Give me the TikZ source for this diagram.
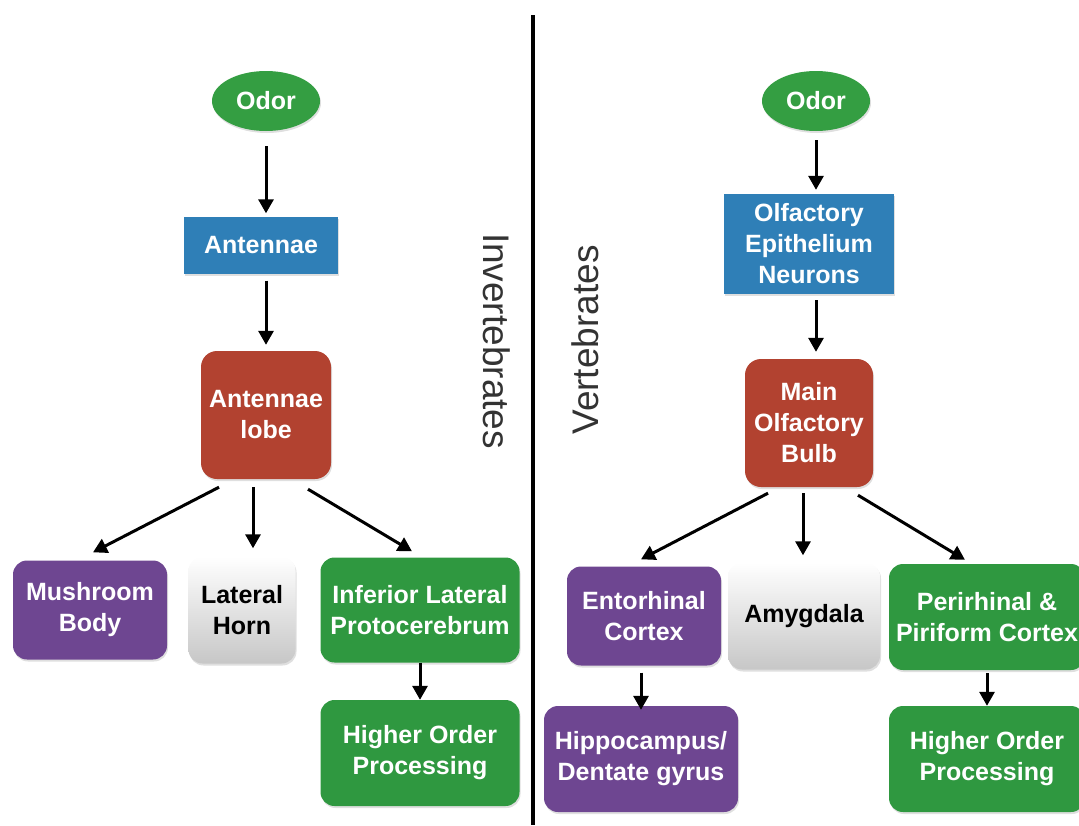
\documentclass[tikz,border=0pt]{standalone}
\usepackage{fontspec}
\setmainfont{Liberation Sans}
\usetikzlibrary{shapes.geometric,arrows.meta,shadows}

\definecolor{odorgreen}{RGB}{52,158,66}
\definecolor{boxblue}{RGB}{47,127,183}
\definecolor{boxred}{RGB}{178,66,48}
\definecolor{boxpurple}{RGB}{110,70,145}
\definecolor{boxgreen}{RGB}{47,152,64}

\begin{document}
\begin{tikzpicture}[x=1pt,y=-1pt]
	\tikzset{base/.style = {align=center, font=\fontsize{25}{31}\selectfont\bfseries, text=white, inner sep=0pt,
		drop shadow={opacity=0.25, shadow xshift=1pt, shadow yshift=-2pt}}}
	\tikzset{odor/.style = {base, shape=ellipse, fill=odorgreen, minimum width=108, minimum height=60}}
	\tikzset{sensor/.style = {base, rectangle, fill=boxblue}}
	\tikzset{relay/.style = {base, rectangle, rounded corners=16, fill=boxred}}
	\tikzset{purplebox/.style = {base, rectangle, rounded corners=14, fill=boxpurple}}
	\tikzset{greenbox/.style = {base, rectangle, rounded corners=14, fill=boxgreen}}
	\tikzset{greybox/.style = {base, rectangle, rounded corners=14, text=black, top color=white, bottom color=black!22}}
	\tikzset{edge/.style = {-{Triangle[length=14pt, width=15pt]}, line width=3pt}}
	\tikzset{sidelabel/.style = {font=\fontsize{37}{42}\selectfont, text=black!80, inner sep=0pt}}
	\useasboundingbox (0,0) rectangle (1079,825);

	% invertebrates
	\node[odor] (odorL) at (266, 101) {Odor};
	\node[sensor, minimum width=154, minimum height=57] (antennae) at (261, 245) {Antennae};
	\node[relay, minimum width=130, minimum height=128] (alobe) at (266, 415) {Antennae\\lobe};
	\node[purplebox, minimum width=154, minimum height=99] (mushroom) at (90, 610) {Mushroom\\Body};
	\node[greybox, minimum width=107, minimum height=107] (lhorn) at (242, 610) {Lateral\\Horn};
	\node[greenbox, minimum width=199, minimum height=105] (ilp) at (420, 610) {Inferior Lateral\\Protocerebrum};
	\node[greenbox, minimum width=199, minimum height=106] (hopL) at (420, 753) {Higher Order\\Processing};
	\node[sidelabel, rotate=-90] (inv) at (497, 341) {Invertebrates};

	\draw[edge, shorten <=15pt, shorten >=3pt] (odorL.south) -- (odorL.south |- antennae.north);
	\draw[edge, shorten <=7pt, shorten >=6pt] (alobe.north |- antennae.south) -- (alobe.north);
	\draw[edge] ([xshift=-47pt, yshift=-8pt]alobe.south) -- ([xshift=3pt, yshift=8pt]mushroom.north);
	\draw[edge] ([xshift=-13pt, yshift=-8pt]alobe.south) -- ([xshift=11pt, yshift=8pt]lhorn.north);
	\draw[edge] ([xshift=42pt, yshift=-10pt]alobe.south) -- ([xshift=-8pt, yshift=6pt]ilp.north);
	\draw[edge] (ilp.south) -- (hopL.north);

	% divider
	\coordinate (divtop) at (533, 15);
	\coordinate (divbot) at (533, 825);
	\draw[line width=4pt] (divtop) -- (divbot);

	% vertebrates
	\node[sidelabel, rotate=90] (vert) at (585, 340) {Vertebrates};
	\node[odor] (odorR) at (816, 101) {Odor};
	\node[sensor, minimum width=170, minimum height=100] (oen) at (809, 244) {Olfactory\\Epithelium\\Neurons};
	\node[relay, minimum width=128, minimum height=128] (mob) at (809, 423) {Main\\Olfactory\\Bulb};
	\node[purplebox, minimum width=154, minimum height=99] (ento) at (644, 616) {Entorhinal\\Cortex};
	\node[greybox, minimum width=152, minimum height=107] (amyg) at (804, 616) {Amygdala};
	\node[greenbox, minimum width=196, minimum height=106] (peri) at (987, 617) {Perirhinal \&\\Piriform Cortex};
	\node[purplebox, minimum width=194, minimum height=106] (hippo) at (641, 759) {Hippocampus/\\Dentate gyrus};
	\node[greenbox, minimum width=196, minimum height=106] (hopR) at (987, 759) {Higher Order\\Processing};

	\draw[edge, shorten <=9pt, shorten >=4pt] (odorR.south) -- (odorR.south |- oen.north);
	\draw[edge, shorten <=6pt, shorten >=7pt] ([xshift=7pt]oen.south) -- ([xshift=7pt]oen.south |- mob.north);
	\draw[edge] ([xshift=-41pt, yshift=-6pt]mob.south) -- ([xshift=-3pt, yshift=7pt]ento.north);
	\draw[edge] ([xshift=-6pt, yshift=-6pt]mob.south) -- ([xshift=-1pt, yshift=7pt]amyg.north);
	\draw[edge] ([xshift=49pt, yshift=-8pt]mob.south) -- ([xshift=-22pt, yshift=4pt]peri.north);
	\draw[edge, shorten <=7pt, shorten >=-4pt] ([xshift=-3pt]ento.south) -- ([xshift=-3pt]ento.south |- hippo.north);
	\draw[edge, shorten <=3pt] (peri.south) -- (hopR.north);
\end{tikzpicture}
\end{document}
